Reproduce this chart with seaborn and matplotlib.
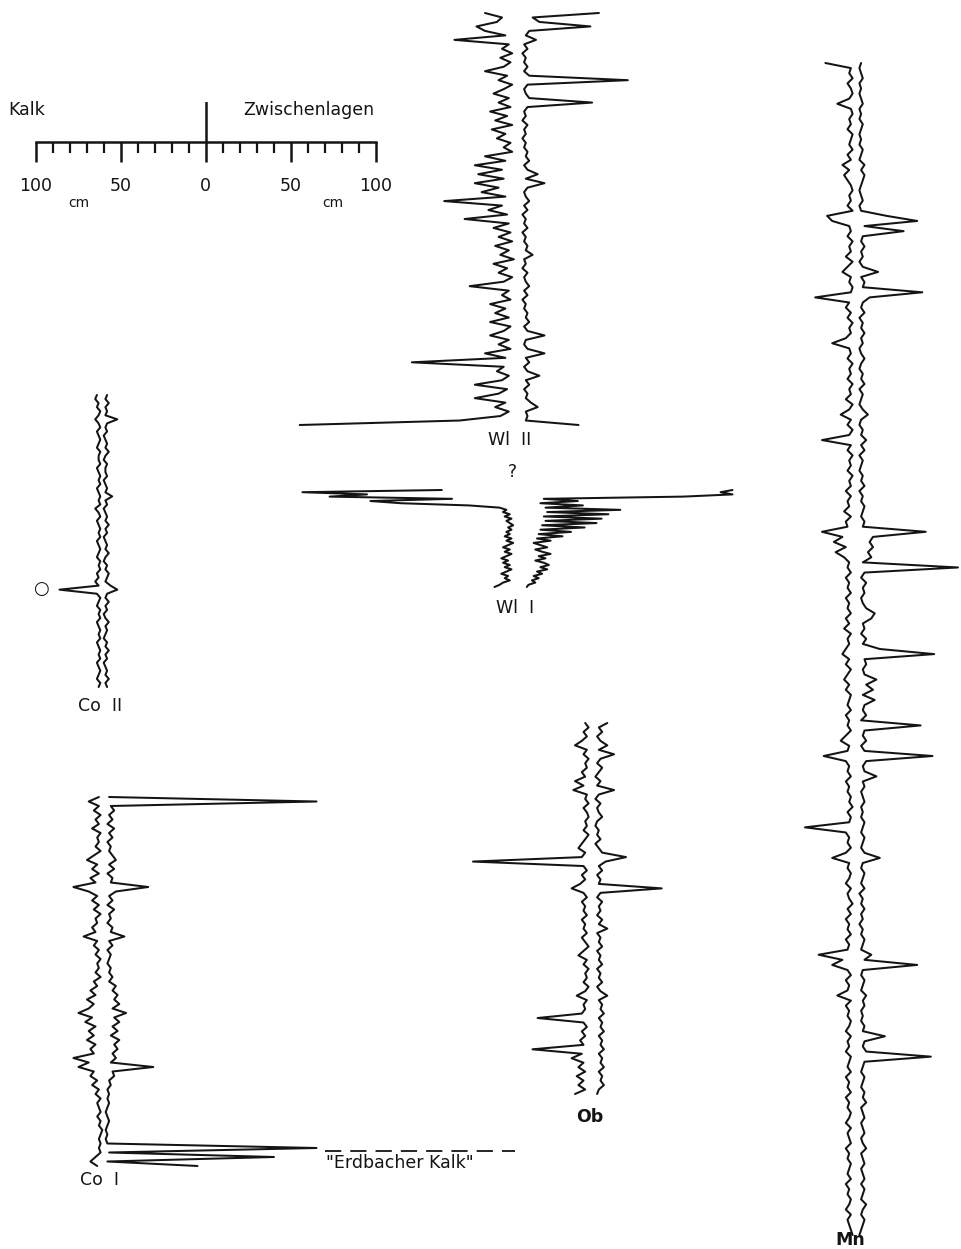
import numpy as np
import matplotlib
matplotlib.use('Agg')
import matplotlib.pyplot as plt
import seaborn as sns
from matplotlib.lines import Line2D

# bed thickness logs: Kalk (limestone, drawn left) and Zwischenlagen (interbeds, drawn right), in cm
wl2_kalk = [20, 10, 13, 25, 20, 8, 38, 6, 10, 4,
            11, 5, 9, 20, 7, 12, 4, 9, 15, 6,
            12, 5, 17, 7, 14, 4, 16, 8, 13, 5,
            9, 4, 20, 8, 26, 10, 24, 9, 26, 12,
            22, 8, 44, 10, 18, 7, 32, 6, 15, 5,
            12, 4, 14, 6, 11, 3, 15, 7, 12, 4,
            9, 29, 6, 10, 5, 17, 8, 14, 6, 17,
            5, 9, 17, 6, 12, 5, 20, 8, 63, 9,
            13, 6, 10, 26, 7, 12, 26, 8, 14, 6,
            11, 35, 129]
wl2_zw = [47, 8, 12, 42, 6, 4, 10, 3, 5, 2,
          4, 3, 5, 3, 6, 64, 5, 3, 4, 6,
          43, 5, 3, 4, 2, 5, 3, 4, 2, 4,
          3, 5, 4, 6, 3, 5, 11, 4, 15, 5,
          3, 4, 6, 3, 5, 2, 4, 3, 5, 2,
          4, 3, 5, 4, 8, 3, 4, 2, 5, 3,
          4, 6, 3, 5, 2, 4, 3, 5, 4, 6,
          3, 5, 15, 4, 3, 5, 15, 4, 6, 3,
          5, 12, 4, 6, 3, 5, 4, 7, 11, 4,
          5, 4, 35]

wl1_kalk = [46, 128, 90, 112, 40, 88, 70, 30, 12, 8,
            10, 6, 9, 5, 8, 6, 4, 7, 5, 8,
            6, 9, 5, 8, 4, 7, 10, 6, 9, 5,
            8, 11, 7, 10, 6, 9, 5, 8, 11, 7,
            9, 6, 10, 12, 15]
wl1_zw = [125, 118, 125, 96, 14, 34, 12, 37, 15, 59,
          16, 52, 14, 48, 15, 45, 13, 38, 12, 30,
          11, 25, 10, 18, 8, 12, 16, 9, 13, 18,
          11, 15, 9, 14, 17, 12, 16, 10, 13, 8,
          11, 7, 9, 5, 4]

co2_kalk = [3, 4, 2, 3, 1, 2, 4, 2, 1, 3,
            2, 1, 2, 3, 1, 2, 2, 1, 3, 2,
            1, 2, 1, 3, 2, 1, 2, 1, 4, 2,
            1, 3, 2, 1, 2, 1, 3, 2, 1, 2,
            3, 1, 2, 1, 3, 2, 4, 2, 25, 3,
            1, 2, 3, 1, 2, 1, 3, 2, 1, 2,
            1, 3, 2, 1, 2, 1, 3, 2, 1, 2,
            3, 1, 2]
co2_zw = [3, 2, 4, 2, 3, 2, 9, 3, 2, 3,
          1, 2, 3, 2, 4, 2, 1, 3, 2, 2,
          3, 1, 2, 3, 2, 6, 2, 3, 1, 2,
          3, 2, 4, 2, 3, 1, 2, 3, 2, 4,
          2, 1, 3, 2, 4, 3, 2, 5, 9, 3,
          2, 4, 2, 3, 1, 2, 4, 2, 3, 2,
          1, 3, 2, 4, 2, 3, 1, 2, 3, 2,
          4, 2, 3]

co1_kalk = [3, 9, 3, 6, 2, 5, 3, 7, 2, 4,
            3, 5, 2, 6, 10, 4, 7, 3, 8, 5,
            18, 9, 4, 7, 3, 6, 2, 5, 4, 7,
            5, 12, 4, 6, 3, 5, 2, 4, 3, 5,
            2, 6, 4, 8, 5, 10, 6, 9, 15, 7,
            11, 5, 9, 6, 10, 5, 8, 6, 18, 9,
            15, 6, 8, 4, 7, 3, 5, 2, 4, 3,
            2, 4, 2, 3, 1, 2, 3, 2, 3, 2,
            5, 8, 4]
co1_zw = [3, 125, 4, 6, 3, 5, 2, 6, 3, 5,
          2, 4, 3, 5, 7, 3, 6, 2, 5, 4,
          26, 7, 3, 5, 2, 6, 3, 4, 2, 5,
          4, 12, 3, 5, 2, 4, 3, 2, 4, 3,
          5, 3, 7, 5, 8, 6, 9, 5, 13, 6,
          9, 5, 8, 4, 9, 6, 8, 5, 7, 4,
          29, 5, 6, 3, 4, 2, 3, 2, 3, 2,
          1, 2, 3, 2, 1, 2, 1, 2, 125, 3,
          100, 2, 55]

ob_kalk = [4, 2, 5, 3, 6, 10, 3, 5, 2, 4,
           3, 6, 4, 10, 5, 11, 3, 4, 2, 5,
           3, 2, 4, 3, 5, 2, 4, 6, 8, 4,
           6, 70, 5, 3, 6, 4, 7, 12, 5, 3,
           6, 4, 5, 3, 6, 4, 5, 3, 6, 4,
           2, 5, 8, 3, 5, 2, 4, 3, 5, 2,
           4, 9, 3, 5, 4, 6, 32, 5, 3, 6,
           4, 7, 5, 35, 6, 12, 5, 8, 4, 9,
           5, 8, 4, 10]
ob_zw = [9, 4, 6, 3, 5, 9, 4, 13, 5, 3,
         6, 4, 2, 5, 3, 13, 4, 2, 5, 3,
         4, 6, 3, 2, 4, 3, 5, 2, 4, 6,
         20, 8, 4, 6, 3, 5, 4, 41, 5, 3,
         6, 4, 5, 3, 6, 4, 9, 3, 5, 4,
         6, 3, 5, 4, 6, 3, 5, 4, 6, 3,
         5, 9, 4, 6, 5, 7, 4, 6, 5, 7,
         4, 6, 5, 7, 4, 6, 5, 7, 4, 6,
         5, 7, 4, 3]

mn_kalk = [18, 3, 4, 2, 5, 3, 2, 4, 11, 3,
           2, 4, 3, 5, 2, 3, 4, 2, 5, 3,
           8, 4, 7, 5, 3, 2, 4, 3, 5, 2,
           17, 14, 4, 3, 5, 2, 4, 3, 6, 2,
           5, 8, 3, 4, 2, 3, 24, 4, 6, 3,
           5, 2, 4, 3, 6, 14, 4, 3, 5, 2,
           4, 3, 5, 2, 4, 3, 6, 2, 4, 9,
           3, 5, 2, 4, 20, 3, 5, 2, 4, 3,
           5, 2, 4, 3, 6, 3, 5, 4, 7, 3,
           6, 5, 20, 8, 13, 6, 12, 7, 4, 5,
           3, 6, 4, 5, 3, 6, 4, 5, 3, 6,
           4, 7, 3, 5, 4, 6, 8, 4, 6, 3,
           5, 7, 4, 6, 3, 4, 5, 3, 6, 4,
           5, 3, 6, 9, 4, 5, 19, 6, 4, 5,
           3, 6, 4, 5, 3, 4, 2, 5, 3, 4,
           30, 6, 4, 5, 3, 6, 14, 4, 5, 3,
           4, 6, 3, 5, 4, 2, 5, 3, 6, 4,
           5, 3, 6, 4, 5, 22, 8, 14, 5, 3,
           6, 4, 5, 11, 3, 6, 4, 5, 3, 4,
           6, 3, 5, 4, 6, 3, 4, 5, 3, 6,
           4, 5, 3, 6, 4, 5, 3, 4, 6, 3,
           5, 4, 3, 6, 4, 5, 3, 4, 5, 3,
           6, 4, 5, 3, 4, 6, 3, 5, 4, 3, 2]
mn_zw = [3, 2, 3, 4, 2, 3, 2, 3, 4, 2,
         3, 2, 4, 3, 2, 3, 2, 4, 3, 2,
         5, 3, 5, 4, 3, 2, 3, 4, 2, 3,
         18, 36, 5, 28, 4, 3, 5, 3, 4, 2,
         4, 13, 3, 5, 4, 39, 8, 4, 3, 5,
         2, 4, 3, 5, 3, 4, 2, 3, 5, 3,
         2, 4, 3, 5, 2, 4, 3, 2, 4, 7,
         3, 2, 4, 3, 6, 3, 5, 2, 4, 3,
         2, 4, 3, 5, 2, 4, 3, 5, 4, 3,
         5, 4, 41, 10, 8, 10, 7, 9, 4, 60,
         5, 3, 6, 4, 5, 3, 4, 6, 11, 9,
         4, 5, 3, 6, 4, 14, 46, 5, 6, 4,
         5, 12, 6, 10, 4, 11, 5, 4, 6, 3,
         38, 5, 4, 6, 3, 5, 45, 6, 4, 5,
         12, 4, 5, 3, 4, 5, 3, 4, 3, 5,
         4, 3, 5, 4, 3, 5, 14, 4, 3, 5,
         4, 3, 5, 2, 4, 3, 5, 3, 4, 2,
         4, 3, 5, 4, 3, 9, 5, 36, 4, 3,
         5, 4, 3, 6, 4, 5, 3, 4, 3, 5,
         4, 17, 5, 4, 6, 44, 5, 4, 3, 5,
         4, 3, 5, 4, 6, 3, 4, 5, 3, 4,
         5, 3, 4, 6, 3, 4, 5, 3, 4, 5,
         3, 5, 4, 3, 6, 4, 3, 5, 4, 3, 2]

scale_major = [-100, -50, 0, 50, 100]
scale_labels = ['100', '50', '0', '50', '100']
scale_minor = list(range(-90, 100, 10))

W, H = 962, 1249
PX_PER_CM = 1.7  # 100 cm = 170 px on the scale bar
INK = '#141414'

sns.set_style('white')
plt.rcParams['font.family'] = ['DejaVu Sans']

fig = plt.figure(figsize=(W / 100, H / 100), dpi=100)
fig.patch.set_facecolor('white')


def fx(x):
    return x / W


def fy(y):
    return 1 - y / H


def draw_log(kalk, zw, cx, top, bottom):
    assert len(kalk) == len(zw)
    n = len(kalk)
    step = (bottom - top) / (n - 1)
    ax = fig.add_axes([0, 0, 1, 1])
    ax.set_xlim(-cx / PX_PER_CM, (W - cx) / PX_PER_CM)
    ax.set_ylim((H - top) / step, -top / step)
    ax.axis('off')
    ax.patch.set_alpha(0)
    beds = np.arange(n)
    sns.lineplot(x=-np.asarray(kalk, float), y=beds, sort=False, estimator=None,
                 color=INK, linewidth=1.45, ax=ax)
    sns.lineplot(x=np.asarray(zw, float), y=beds, sort=False, estimator=None,
                 color=INK, linewidth=1.45, ax=ax)
    return ax


draw_log(wl2_kalk, wl2_zw, 519, 13, 425)
draw_log(wl1_kalk, wl1_zw, 520, 490, 587)
draw_log(co2_kalk, co2_zw, 102, 395, 687)
draw_log(co1_kalk, co1_zw, 104, 797, 1166)
draw_log(ob_kalk, ob_zw, 592, 723, 1094)
draw_log(mn_kalk, mn_zw, 856, 63, 1235)

# scale bar
sb = fig.add_axes([fx(35.7), fy(141.7), 340 / W, 39.7 / H])
sb.set_xlim(-100, 100)
sb.set_ylim(0, 1)
sb.patch.set_alpha(0)
for s in ['top', 'left', 'right']:
    sb.spines[s].set_visible(False)
sb.spines['bottom'].set_linewidth(1.8)
sb.spines['bottom'].set_color(INK)
sb.set_yticks([])
sb.set_xticks(scale_major)
sb.set_xticklabels(scale_labels)
sb.set_xticks(scale_minor, minor=True)
sb.tick_params(axis='x', which='both', bottom=True, top=False)
sb.tick_params(axis='x', which='major', direction='out', length=14.5, width=1.8,
               color=INK, pad=11, labelsize=12.5, labelcolor=INK)
sb.tick_params(axis='x', which='minor', direction='out', length=8, width=1.6, color=INK)
sb.axvline(0, color=INK, lw=1.8)

txt = dict(color=INK, fontsize=12.5, va='center')
fig.text(fx(8), fy(110), 'Kalk', ha='left', **txt)
fig.text(fx(243), fy(110), 'Zwischenlagen', ha='left', **txt)
fig.text(fx(79), fy(203), 'cm', ha='center', color=INK, fontsize=10, va='center')
fig.text(fx(333), fy(203), 'cm', ha='center', color=INK, fontsize=10, va='center')

fig.text(fx(510), fy(440), 'Wl  II', ha='center', **txt)
fig.text(fx(512), fy(472), '?', ha='center', **txt)
fig.text(fx(515), fy(608), 'Wl  I', ha='center', **txt)
fig.text(fx(41), fy(589), '○', ha='center', color=INK, fontsize=13, va='center')
fig.text(fx(100), fy(706), 'Co  II', ha='center', **txt)
fig.text(fx(100), fy(1180), 'Co  I', ha='center', **txt)
fig.text(fx(590), fy(1117), 'Ob', ha='center', fontweight='bold', **txt)
fig.text(fx(850), fy(1240), 'Mn', ha='center', fontweight='bold', **txt)

fig.text(fx(326), fy(1163), '"Erdbacher Kalk"', ha='left', **txt)
fig.add_artist(Line2D([fx(325), fx(515)], [fy(1151), fy(1151)], color=INK, lw=1.3,
                      linestyle=(0, (9, 5))))

fig.savefig('out.png', dpi=100, facecolor='white')
